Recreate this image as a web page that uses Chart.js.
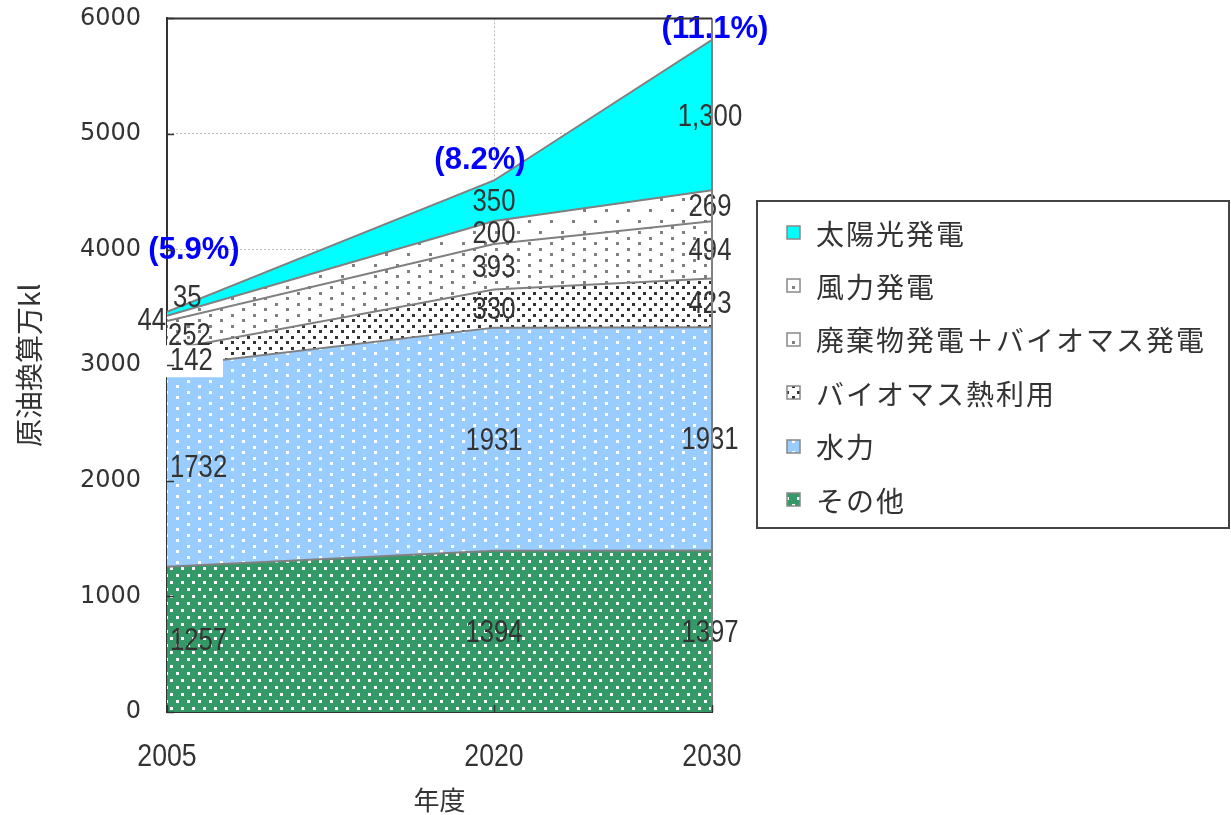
<!DOCTYPE html>
<html lang="ja">
<head>
<meta charset="utf-8">
<title>再生可能エネルギー導入量の見通し</title>
<script src="https://cdn.jsdelivr.net/npm/chart.js@4.4.1/dist/chart.umd.min.js"></script>
<style>
  html, body { margin: 0; padding: 0; background: #fff; }
  #wrap { position: relative; width: 1231px; height: 815px; }
</style>
</head>
<body>
<div id="wrap"><canvas id="chart" width="1231" height="815"></canvas></div>
<script>
// 年度ごとの導入量（原油換算万kl）
const years = [2005, 2020, 2030];
const other = [1257, 1394, 1397];      // その他
const hydro = [1732, 1931, 1931];      // 水力
const bioHeat = [142, 330, 423];       // バイオマス熱利用
const wasteBio = [252, 393, 494];      // 廃棄物発電＋バイオマス発電
const wind = [44, 200, 269];           // 風力発電
const solar = [35, 350, 1300];         // 太陽光発電
const seriesNames = ['その他', '水力', 'バイオマス熱利用', '廃棄物発電＋バイオマス発電', '風力発電', '太陽光発電'];
const shareLabels = ['(5.9%)', '(8.2%)', '(11.1%)'];
const yTicks = [0, 1000, 2000, 3000, 4000, 5000, 6000];

const series = [other, hydro, bioHeat, wasteBio, wind, solar];

const canvas = document.getElementById('chart');
const ctx = canvas.getContext('2d');

// 点描の塗りパターン
function dotPattern(bg, dot, w, h, dots, size) {
  const c = document.createElement('canvas');
  c.width = w;
  c.height = h;
  const g = c.getContext('2d');
  g.fillStyle = bg;
  g.fillRect(0, 0, w, h);
  g.fillStyle = dot;
  dots.forEach(([x, y]) => g.fillRect(x, y, size, size));
  return ctx.createPattern(c, 'repeat');
}

const fills = [
  dotPattern('#339966', '#ffffff', 11, 14, [[0, 0], [5, 7]], 3),
  dotPattern('#99ccff', '#ffffff', 22, 11, [[0, 0], [11, 6]], 3),
  dotPattern('#ffffff', '#333333', 11, 11, [[0, 0], [5, 6]], 3),
  dotPattern('#ffffff', '#808080', 22, 11, [[0, 0], [11, 6]], 3),
  dotPattern('#ffffff', '#808080', 22, 22, [[0, 0], [11, 11]], 3),
  '#00ffff'
];

function condensed(c, text, x, y, align, sx) {
  c.save();
  c.translate(x, y);
  c.scale(sx, 1);
  c.textAlign = align;
  c.fillText(text, 0, 0);
  c.restore();
}

// 数値ラベルと構成比
const labelPlugin = {
  id: 'segmentLabels',
  afterDatasetsDraw(chart) {
    const { ctx: c, scales: { x, y } } = chart;
    // 2005年度は線が込み合うので個別にずらす
    const tweak = {
      '5-0': { dx: 6, dy: -15, align: 'left' },
      '4-0': { dx: -1, dy: 3, align: 'right' },
      '3-0': { dx: 1, dy: 1, align: 'left' },
      '2-0': { dx: 3, dy: 3, align: 'left', box: true }
    };
    c.save();
    c.font = '31px "Liberation Sans", Arial, sans-serif';
    c.textBaseline = 'middle';
    c.fillStyle = '#333333';
    years.forEach((yr, j) => {
      let cum = 0;
      series.forEach((vals, i) => {
        const v = vals[j];
        const mid = cum + v / 2;
        cum += v;
        const text = i === 5 ? v.toLocaleString('en-US') : String(v);
        const t = tweak[i + '-' + j] || (j === 0 ? { dx: 3, dy: 2, align: 'left' } : { dx: j === 2 ? -2 : 0, dy: 2, align: 'center' });
        const px = x.getPixelForValue(yr) + t.dx;
        const py = y.getPixelForValue(mid) + t.dy;
        if (t.box) {
          c.fillStyle = '#ffffff';
          c.fillRect(px - 5, py - 16, 58, 32);
          c.fillStyle = '#333333';
        }
        condensed(c, text, px, py, t.align, 0.83);
      });
    });

    const shareOffset = [{ dx: 27, dy: -61 }, { dx: -14, dy: -20 }, { dx: 3, dy: -10 }];
    c.font = 'bold 31px "Liberation Sans", Arial, sans-serif';
    c.fillStyle = '#0000ff';
    years.forEach((yr, j) => {
      const total = series.reduce((s, vals) => s + vals[j], 0);
      const o = shareOffset[j];
      c.textAlign = 'center';
      c.fillText(shareLabels[j], x.getPixelForValue(yr) + o.dx, y.getPixelForValue(total) + o.dy);
    });
    c.restore();
  }
};

// 枠線・内向き目盛・年度ラベル・凡例
const framePlugin = {
  id: 'frame',
  afterDraw(chart) {
    const { ctx: c, chartArea: a, scales: { x, y } } = chart;
    c.save();
    c.strokeStyle = '#808080';
    c.lineWidth = 2;
    c.beginPath();
    c.moveTo(a.right, a.top);
    c.lineTo(a.right, a.bottom);
    c.stroke();
    c.strokeStyle = '#333333';
    c.beginPath();
    c.moveTo(a.left - 1, a.top);
    c.lineTo(a.right, a.top);
    c.stroke();

    c.lineWidth = 1.5;
    y.ticks.forEach(t => {
      const py = Math.round(y.getPixelForValue(t.value)) + 0.5;
      c.beginPath();
      c.moveTo(a.left, py);
      c.lineTo(a.left + 7, py);
      c.stroke();
    });
    x.ticks.forEach(t => {
      const px = Math.round(x.getPixelForValue(t.value)) + 0.5;
      c.beginPath();
      c.moveTo(px, a.bottom);
      c.lineTo(px, a.bottom - 7);
      c.stroke();
    });

    c.fillStyle = '#333333';
    c.font = '31px "Liberation Sans", Arial, sans-serif';
    c.textBaseline = 'middle';
    x.ticks.forEach(t => {
      condensed(c, String(t.value), x.getPixelForValue(t.value), a.bottom + 45, 'center', 0.86);
    });

    // 凡例
    const box = { left: 757, top: 201, width: 472, height: 327 };
    c.fillStyle = '#ffffff';
    c.fillRect(box.left, box.top, box.width, box.height);
    c.strokeStyle = '#444444';
    c.lineWidth = 2;
    c.strokeRect(box.left, box.top, box.width, box.height);
    c.font = '28px "Noto Sans CJK JP", sans-serif';
    c.letterSpacing = '2px';
    c.textAlign = 'left';
    const order = chart.data.datasets.map((d, i) => i).reverse();
    order.forEach((di, k) => {
      const ds = chart.data.datasets[di];
      const cy = box.top + 32 + k * 53.4;
      c.fillStyle = ds.backgroundColor;
      c.fillRect(787, Math.round(cy - 7), 13, 13);
      c.strokeStyle = '#888888';
      c.lineWidth = 1.5;
      c.strokeRect(787, Math.round(cy - 7), 13, 13);
      c.fillStyle = '#333333';
      c.fillText(ds.label, 816, cy + 1);
    });
    c.restore();
  }
};

new Chart(ctx, {
  type: 'line',
  data: {
    datasets: series.map((vals, i) => ({
      label: seriesNames[i],
      data: vals.map((v, j) => ({ x: years[j], y: v })),
      backgroundColor: fills[i],
      borderColor: '#808080',
      borderWidth: 2,
      pointRadius: 0,
      tension: 0,
      fill: i === 0 ? 'origin' : '-1'
    }))
  },
  options: {
    responsive: false,
    animation: false,
    layout: { padding: { top: 18, right: 519, bottom: 0, left: 0 } },
    plugins: {
      legend: { display: false },
      tooltip: { enabled: false }
    },
    scales: {
      x: {
        type: 'linear',
        min: years[0],
        max: years[years.length - 1],
        afterBuildTicks: s => { s.ticks = years.map(v => ({ value: v })); },
        afterFit: s => { s.height = 103; },
        ticks: { display: false },
        grid: { color: '#b8b8b8', lineWidth: 1, drawTicks: false },
        border: { color: '#333333', width: 2, dash: [2, 2] },
        title: {
          display: true,
          text: '年度',
          color: '#333333',
          font: { family: '"Noto Sans CJK JP", sans-serif', size: 26, lineHeight: 1.15 },
          padding: { top: 0, bottom: 0 }
        }
      },
      y: {
        stacked: true,
        min: 0,
        max: 6000,
        afterBuildTicks: s => { s.ticks = yTicks.map(v => ({ value: v })); },
        afterFit: s => { s.width = 167; },
        ticks: {
          color: '#333333',
          padding: 4,
          callback: v => String(v),
          font: { family: '"DejaVu Sans", sans-serif', size: 24 }
        },
        grid: { color: '#b8b8b8', lineWidth: 1, drawTicks: true, tickLength: 22, tickColor: 'rgba(0,0,0,0)' },
        border: { color: '#333333', width: 2, dash: [2, 2] },
        title: {
          display: true,
          text: '原油換算万kl',
          color: '#333333',
          font: { family: '"Noto Sans CJK JP", sans-serif', size: 28, lineHeight: 1.2 },
          padding: { top: 13, bottom: 0 }
        }
      }
    }
  },
  plugins: [labelPlugin, framePlugin]
});
</script>
</body>
</html>
